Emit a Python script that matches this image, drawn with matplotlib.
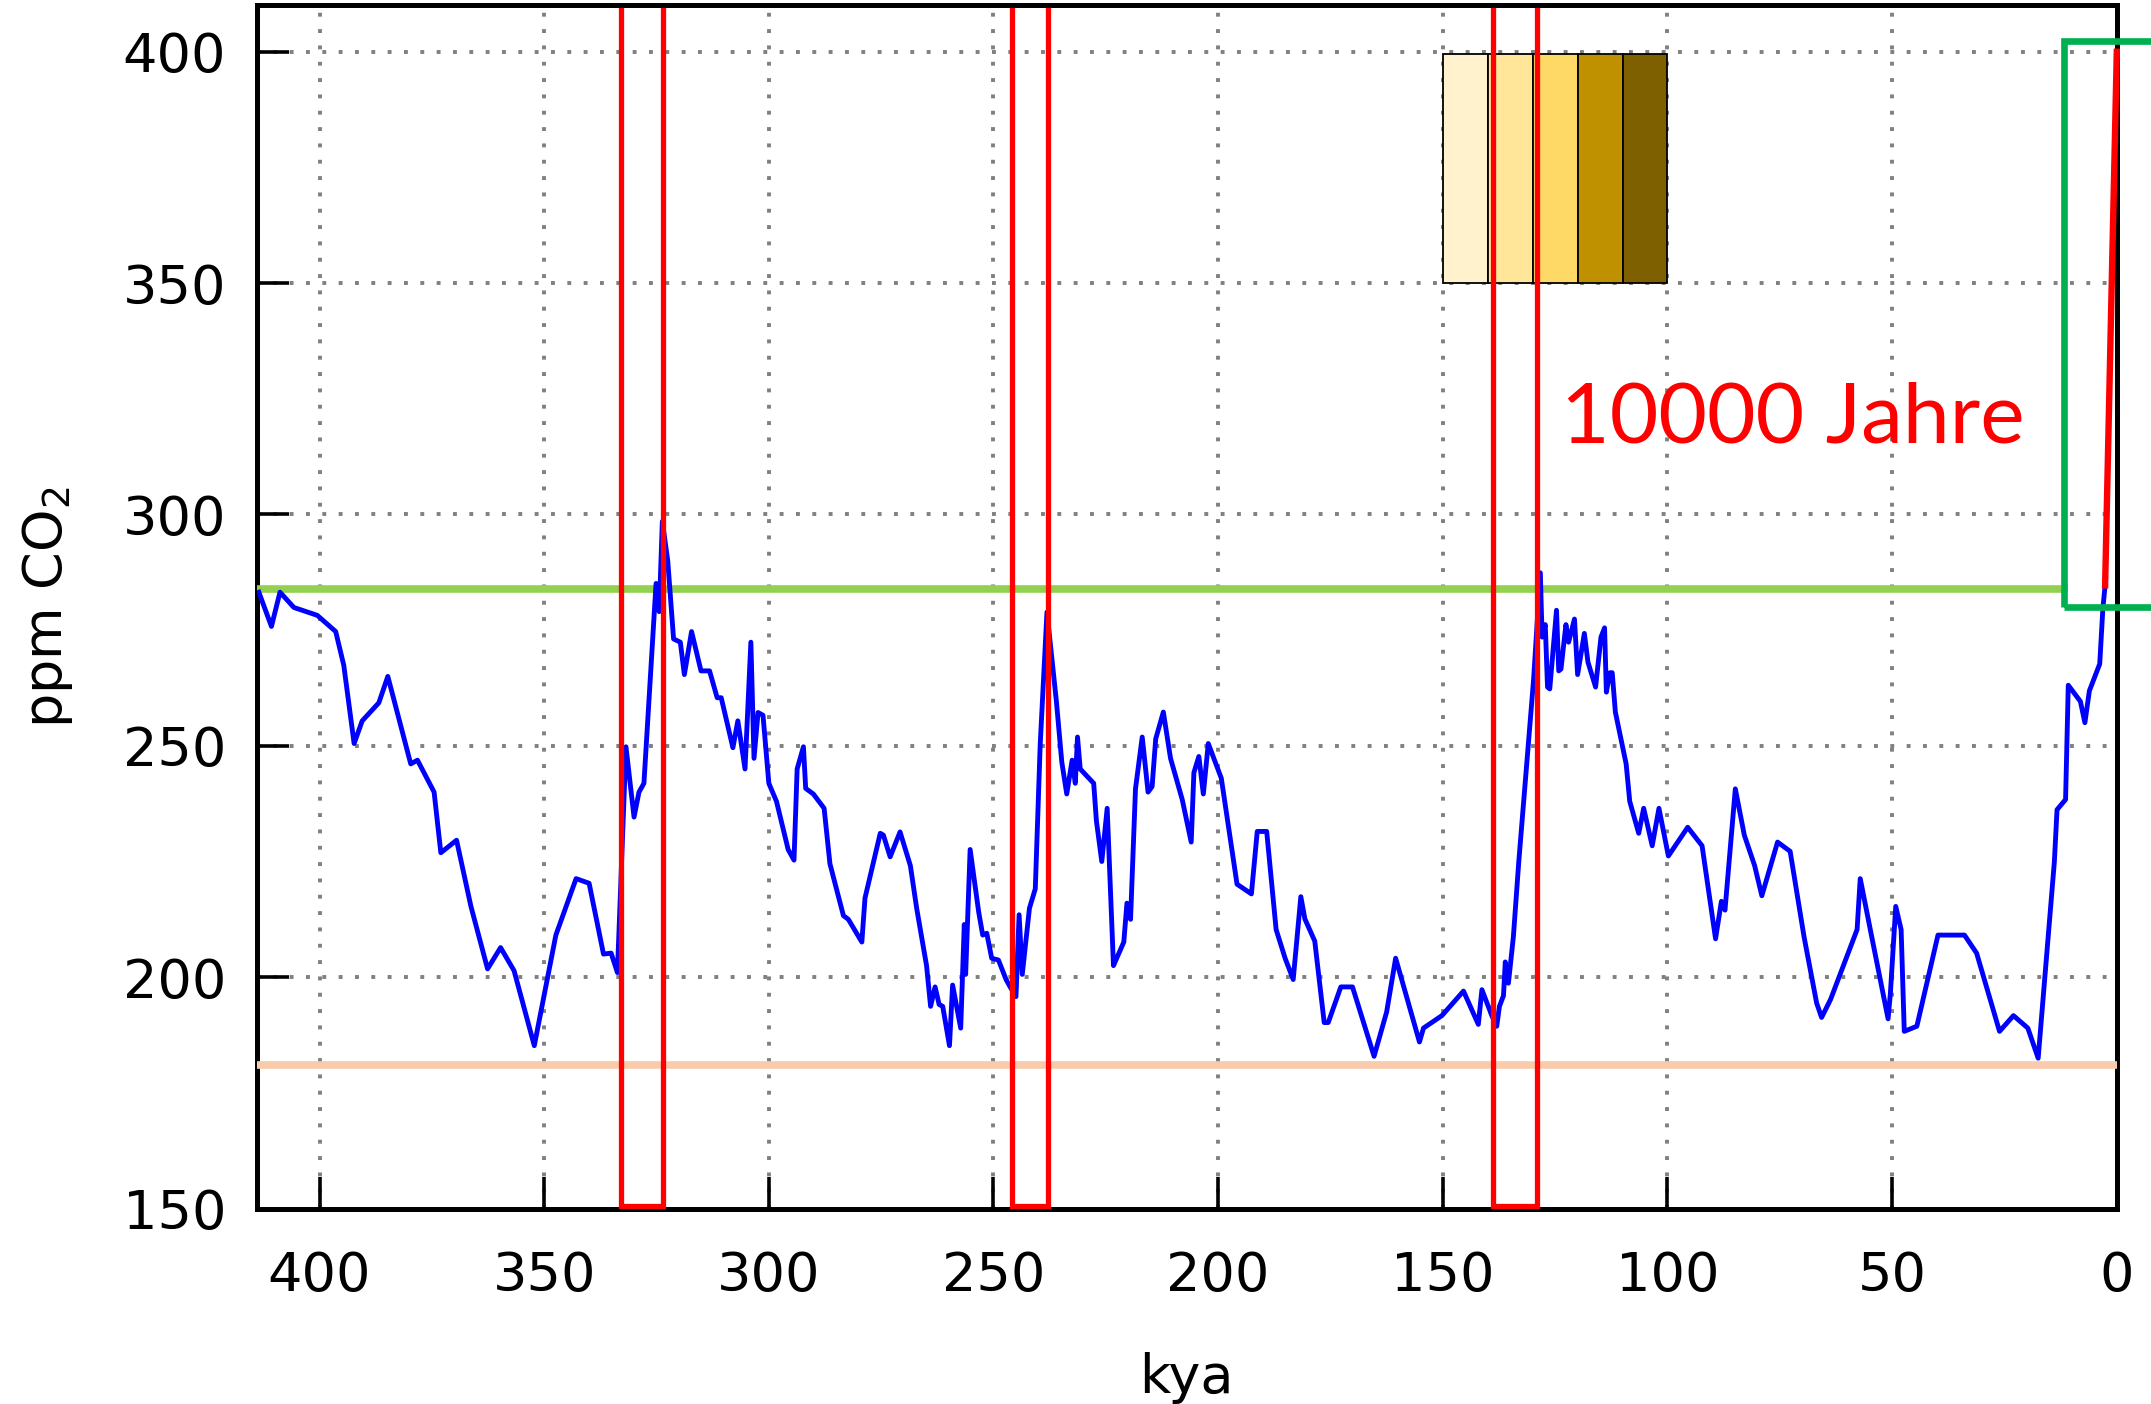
import matplotlib.pyplot as plt
from matplotlib.patches import Rectangle

# Vostok CO2 record (kya, ppm)
kya = [413.5, 410.7, 408.8, 405.7, 400.5, 396.4, 394.6, 392.3, 390.5, 386.8,
       384.8, 379.7, 378.2, 374.5, 373.0, 369.5, 366.3, 362.6, 359.7, 356.7,
       352.2, 347.4, 342.9, 340.0, 336.8, 335.1, 333.7, 331.8, 330.0, 328.9,
       327.8, 325.1, 324.4, 323.7, 322.5, 321.2, 319.7, 318.8, 317.2, 315.1,
       313.2, 311.5, 310.6, 308.0, 306.9, 305.3, 304.0, 303.3, 302.4, 301.3,
       300.0, 298.3, 295.7, 294.4, 293.7, 292.3, 291.8, 290.1, 287.7, 286.4,
       283.4, 282.3, 279.3, 278.6, 275.2, 274.5, 273.0, 270.8, 268.5, 267.1,
       264.9, 264.0, 263.0, 262.1, 261.3, 259.8, 259.1, 257.3, 256.5, 256.2,
       255.2, 253.3, 252.4, 251.5, 250.4, 248.9, 247.2, 246.3, 245.0, 244.3,
       243.6, 242.0, 240.7, 239.6, 238.1, 236.0, 234.8, 233.7, 232.5, 231.8,
       231.3, 230.7, 227.7, 227.1, 225.9, 224.7, 223.3, 221.0, 220.3, 219.5,
       218.4, 216.9, 215.6, 214.7, 213.9, 212.2, 210.6, 208.0, 206.0, 205.4,
       204.3, 203.3, 202.2, 199.3, 195.8, 192.6, 191.3, 189.2, 187.1, 185.1,
       183.3, 181.6, 180.7, 178.5, 176.4, 175.5, 172.7, 170.1, 165.3, 162.5,
       160.5, 155.2, 154.3, 150.2, 145.4, 142.1, 141.3, 139.1, 138.0, 137.4,
       136.5, 136.1, 135.4, 134.3, 133.1, 131.6, 129.8, 128.3, 127.9, 127.2,
       126.7, 126.2, 124.7, 124.2, 123.7, 122.6, 122.0, 120.7, 120.0, 118.5,
       117.7, 116.0, 114.8, 114.0, 113.6, 112.8, 112.3, 111.6, 109.2, 108.4,
       106.4, 105.3, 103.4, 101.9, 99.8, 95.5, 92.3, 89.3, 88.0, 87.2,
       84.9, 82.9, 80.6, 79.0, 75.5, 72.7, 69.6, 66.8, 65.7, 63.7,
       57.8, 57.1, 54.7, 50.9, 50.4, 49.2, 48.0, 47.3, 44.5, 39.8,
       33.9, 31.2, 26.1, 23.0, 19.8, 17.5, 13.9, 13.3, 11.4, 10.8,
       8.1, 7.1, 6.1, 3.8, 3.1, 2.6]
co2 = [283.2, 275.8, 283.2, 279.9, 278.2, 274.7, 267.4, 250.5, 255.4, 259.3,
       265.0, 246.1, 246.9, 240.0, 226.9, 229.6, 215.3, 201.8, 206.4, 201.4,
       185.2, 209.1, 221.3, 220.3, 205.0, 205.2, 201.0, 249.8, 234.6, 240.0,
       241.9, 285.1, 279.0, 298.5, 290.0, 273.1, 272.4, 265.4, 274.7, 266.2,
       266.2, 260.4, 260.4, 249.6, 255.4, 245.0, 272.4, 247.3, 257.2, 256.6,
       241.9, 238.0, 227.6, 225.3, 245.0, 249.8, 240.8, 239.6, 236.5, 224.5,
       213.3, 212.5, 207.6, 217.1, 231.1, 230.7, 226.0, 231.4, 224.1, 214.9,
       202.5, 193.7, 197.9, 194.1, 193.7, 185.2, 198.3, 189.0, 211.4, 200.6,
       227.6, 214.1, 209.1, 209.5, 204.1, 203.7, 199.5, 197.9, 195.8, 213.5,
       200.6, 214.9, 219.1, 250.4, 278.9, 259.6, 246.5, 239.6, 246.9, 241.9,
       251.9, 245.0, 241.9, 233.8, 225.0, 236.5, 202.5, 207.6, 216.0, 212.5,
       240.7, 251.9, 240.0, 241.2, 251.5, 257.3, 247.3, 238.4, 229.2, 244.2,
       247.7, 239.6, 250.5, 243.0, 220.1, 218.0, 231.5, 231.5, 210.3, 204.1,
       199.5, 217.4, 212.6, 207.8, 190.2, 190.2, 197.9, 197.9, 182.9, 192.5,
       204.1, 186.0, 189.0, 191.7, 197.0, 189.8, 197.3, 191.7, 189.4, 193.7,
       196.0, 203.3, 198.7, 208.7, 224.9, 242.7, 264.3, 287.4, 273.5, 276.2,
       262.7, 262.3, 279.3, 266.2, 266.6, 276.2, 272.4, 277.4, 265.4, 274.3,
       268.1, 262.7, 273.5, 275.5, 261.6, 265.8, 265.8, 257.3, 246.1, 238.0,
       231.1, 236.5, 228.4, 236.5, 226.2, 232.4, 228.4, 208.3, 216.4, 214.5,
       240.7, 230.7, 224.1, 217.6, 229.2, 227.2, 208.7, 194.4, 191.3, 195.2,
       210.3, 221.3, 209.5, 191.0, 196.4, 215.3, 210.3, 188.3, 189.4, 209.1,
       209.1, 205.2, 188.3, 191.7, 189.0, 182.5, 224.9, 236.2, 238.4, 263.1,
       259.6, 255.0, 261.9, 267.7, 279.7, 284.7]

# modern rise
modern_kya = [2.6, 0.0]
modern_co2 = [284.7, 400.0]

# warm periods (red frames)
warm_start = [333.0, 245.9, 138.9]
warm_end = [323.6, 237.9, 129.0]

preind_level = 284
glacial_min = 181

band_left = [140, 130, 120, 110, 100]
band_colors = ['#FFF2CC', '#FFE699', '#FFD966', '#BF9000', '#7F6000']

plt.rcParams['font.family'] = 'DejaVu Sans'
fig = plt.figure(figsize=(21.51, 14.04), dpi=100)
ax = fig.add_axes([0.1193, 0.1392, 0.8648, 0.8569])

ax.set_xlim(414, 0)
ax.set_ylim(150, 410)
ax.set_xticks([400, 350, 300, 250, 200, 150, 100, 50, 0])
ax.set_yticks([150, 200, 250, 300, 350, 400])
ax.grid(True, color='#808080', linestyle=(0, (1, 3.2)), linewidth=2.8)
ax.set_axisbelow(True)

for s in ax.spines.values():
    s.set_linewidth(3.6)
ax.tick_params(direction='in', length=23, width=2.6, labelsize=39)
ax.tick_params(axis='y', pad=22)
ax.tick_params(axis='x', pad=30)

ax.bar(band_left, 49.5, bottom=350, width=10, align='edge',
       color=band_colors, edgecolor='black', linewidth=1.3, zorder=2)

ax.axhline(preind_level, xmin=0, xmax=(414 - 11.8) / 414, color='#92D050', lw=5.5, zorder=3)
ax.axhline(glacial_min, color='#F8CBAD', lw=5.5, zorder=3)

ax.plot(kya, co2, color='#0000FF', lw=3.5, zorder=4)
ax.plot(modern_kya, modern_co2, color='#FF0000', lw=4.6, zorder=5, clip_on=False)

for a, b in zip(warm_start, warm_end):
    ax.plot([a, a, b, b], [409, 150.5, 150.5, 409], color='#FF0000', lw=3.8,
            zorder=6, clip_on=False, solid_joinstyle='miter')

ax.add_patch(Rectangle((11.8, 280), -25, 122.4, fill=False, edgecolor='#00B050',
                       lw=4.8, zorder=6, clip_on=False))

ax.text(123.8, 315.5, '10000 Jahre', color='#FF0000', fontsize=60.5,
        family='Lato', va='baseline', ha='left', zorder=7)

ax.set_xlabel('kya', fontsize=39, labelpad=36)
ax.set_ylabel('ppm CO$_2$', fontsize=39, labelpad=34)

fig.savefig('out.png', dpi=100)
